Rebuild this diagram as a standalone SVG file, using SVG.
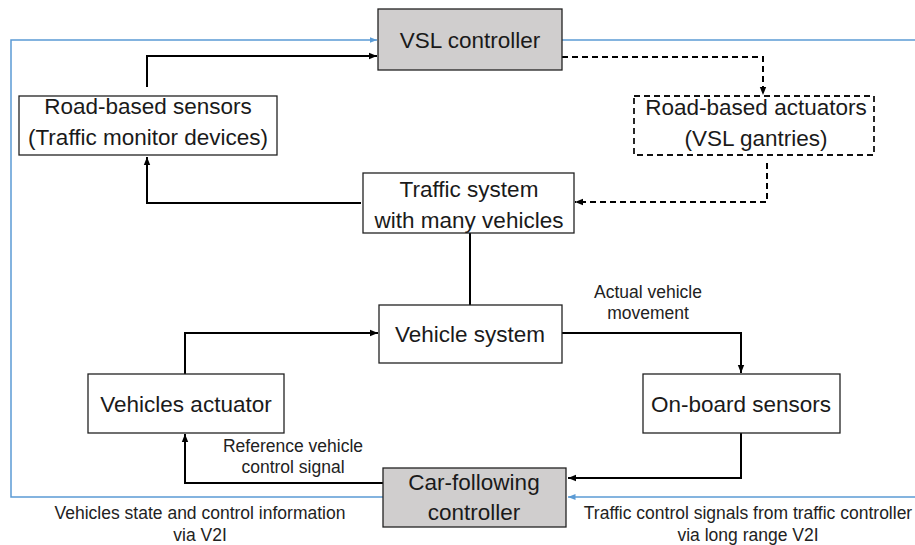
<svg xmlns="http://www.w3.org/2000/svg" width="915" height="545" viewBox="0 0 915 545">
  <defs>
    <style>
      .box { fill: #ffffff; stroke: #222222; stroke-width: 1.3; }
      .ctrl { fill: #d0cece; stroke: #222222; stroke-width: 1.3; }
      .dbox { fill: #ffffff; stroke: #111111; stroke-width: 1.8; stroke-dasharray: 6 4; }
      .lbl { font-family: "Liberation Sans", Arial, sans-serif; font-size: 22.5px; fill: #1a1a1a; text-anchor: middle; }
      .note { font-family: "Liberation Sans", Arial, sans-serif; font-size: 17.5px; fill: #222222; text-anchor: middle; }
      .wire { fill: none; stroke: #000000; stroke-width: 2; }
      .dash { fill: none; stroke: #000000; stroke-width: 2; stroke-dasharray: 6 4; }
      .blue { fill: none; stroke: #5b9bd5; stroke-width: 1.5; }
    </style>
    <marker id="ah" viewBox="0 0 10 10" refX="10" refY="5" markerWidth="4" markerHeight="4" markerUnits="strokeWidth" orient="auto">
      <path d="M0,1 L10,5 L0,9 z" fill="#000000"/>
    </marker>
    <marker id="ahb" viewBox="0 0 10 10" refX="10" refY="5" markerWidth="5" markerHeight="5" markerUnits="strokeWidth" orient="auto">
      <path d="M0,1 L10,5 L0,9 z" fill="#5b9bd5"/>
    </marker>
  </defs>

  <!-- connectors -->
  <g id="connectors">
    <!-- V2I links -->
    <path class="blue" d="M915,497 L568,497" marker-end="url(#ahb)"/>
    <path class="blue" d="M562,40 L915,40"/>
    <path class="blue" d="M383,497 L11,497 L11,40 L377,40" marker-end="url(#ahb)"/>
    <!-- road sensors to VSL controller -->
    <path class="wire" d="M147,87 L147,56 L377,56" marker-end="url(#ah)"/>
    <!-- VSL controller to actuators -->
    <path class="dash" d="M562,57 L763,57 L763,95" marker-end="url(#ah)"/>
    <!-- actuators to traffic system -->
    <path class="dash" d="M767,163 L767,202 L575,202" marker-end="url(#ah)"/>
    <!-- traffic system to road sensors -->
    <path class="wire" d="M361,203 L147,203 L147,157" marker-end="url(#ah)"/>
    <!-- traffic system / vehicle system -->
    <path class="wire" d="M470,233 L470,305"/>
    <!-- vehicle loop -->
    <path class="wire" d="M185,374 L185,333 L378,333" marker-end="url(#ah)"/>
    <path class="wire" d="M562,333 L741,333 L741,373" marker-end="url(#ah)"/>
    <path class="wire" d="M741,433 L741,478 L568,478" marker-end="url(#ah)"/>
    <path class="wire" d="M383,483 L185,483 L185,434" marker-end="url(#ah)"/>
  </g>

  <!-- connector labels -->
  <g id="labels">
    <text class="note" x="648" y="298">Actual vehicle</text>
    <text class="note" x="648" y="319">movement</text>
    <text class="note" x="293" y="452">Reference vehicle</text>
    <text class="note" x="293" y="473">control signal</text>
    <text class="note" x="200" y="519">Vehicles state and control information</text>
    <text class="note" x="200" y="541">via V2I</text>
    <text class="note" x="748" y="519">Traffic control signals from traffic controller</text>
    <text class="note" x="748" y="541">via long range V2I</text>
  </g>

  <g id="vsl-controller">
    <rect class="ctrl" x="378" y="9" width="184" height="61"/>
    <text class="lbl" x="470" y="48">VSL controller</text>
  </g>

  <g id="road-sensors">
    <rect class="box" x="19" y="96" width="258" height="59"/>
    <text class="lbl" x="148" y="114">Road-based sensors</text>
    <text class="lbl" x="148" y="145">(Traffic monitor devices)</text>
  </g>

  <g id="road-actuators">
    <rect class="dbox" x="634" y="96" width="240" height="59"/>
    <text class="lbl" x="756" y="115">Road-based actuators</text>
    <text class="lbl" x="756" y="146">(VSL gantries)</text>
  </g>

  <g id="traffic-system">
    <rect class="box" x="363" y="173" width="211" height="60"/>
    <text class="lbl" x="469" y="197">Traffic system</text>
    <text class="lbl" x="469" y="228">with many vehicles</text>
  </g>

  <g id="vehicle-system">
    <rect class="box" x="379" y="305" width="183" height="58"/>
    <text class="lbl" x="470" y="342">Vehicle system</text>
  </g>

  <g id="vehicles-actuator">
    <rect class="box" x="88" y="374" width="196" height="59"/>
    <text class="lbl" x="186" y="412">Vehicles actuator</text>
  </g>

  <g id="onboard-sensors">
    <rect class="box" x="643" y="374" width="197" height="59"/>
    <text class="lbl" x="741" y="412">On-board sensors</text>
  </g>

  <g id="car-following-controller">
    <rect class="ctrl" x="383" y="468" width="183" height="59"/>
    <text class="lbl" x="474" y="490">Car-following</text>
    <text class="lbl" x="474" y="520">controller</text>
  </g>
</svg>
